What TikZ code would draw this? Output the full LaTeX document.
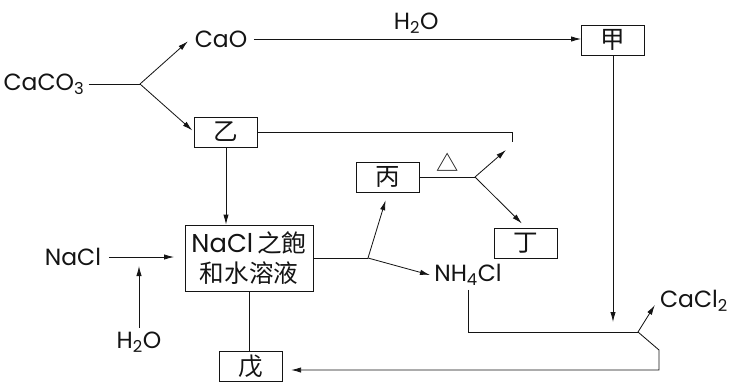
\documentclass[tikz,border=0pt]{standalone}
\usepackage{fontspec}
\setmainfont{Poppins}
\newfontfamily\cjk{Noto Sans CJK TC}
\usetikzlibrary{arrows.meta}
\usepackage{xcolor}
\definecolor{inkblack}{HTML}{141414}

\begin{document}
\begin{tikzpicture}[x=0.03cm, y=-0.03cm, line width=0.7pt, draw=inkblack,
  every node/.style={font=\fontsize{20}{23}\selectfont, text=inkblack},
  box/.style={draw, minimum width=1.89cm, minimum height=0.9cm, inner sep=0pt,
    font=\cjk\fontsize{21}{24}\selectfont},
  arr/.style={-{Latex[length=3mm, width=1.6mm]}}]

  % Canvas (pixel grid of the reference)
  \useasboundingbox (0, 0) rectangle (729, 381);

  % ==================== 1. LIMESTONE SPLIT ====================
  \node (caco3) at (44, 84) {CaCO\textsubscript{3}};
  \coordinate (fork1) at (140, 84);
  \node (cao) at (221, 39) {CaO};
  \node[box] (jia) at (613, 40) {甲};
  \node[box] (yi) at (226, 132) {乙};
  \draw (caco3) -- (fork1);
  \draw[arr, shorten >=3pt] (fork1) -- (cao.west);
  \draw[arr, shorten >=2pt] (fork1) -- (yi.west);
  \draw[arr, shorten <=2pt] (cao.east) -- node[above=1pt] {H\textsubscript{2}O} (cao.east -| jia.west);

  % gas line from yi
  \coordinate (co2end) at (512, 142);
  \draw (yi.east) -| (co2end);

  % ==================== 2. SATURATED BRINE ====================
  \node[box, minimum width=3.84cm, minimum height=1.98cm, align=center,
    font=\cjk\fontsize{21}{26}\selectfont] (sat) at (249, 258)
    {{\rmfamily\fontsize{22}{26}\selectfont NaCl}\,之飽\\和水溶液};
  \node (nacl) at (73, 257) {NaCl};
  \node (h2ob) at (139, 342) {H\textsubscript{2}O};
  \coordinate (h2oin) at (139, 266);
  \draw[arr] (yi.south) -- (yi.south |- sat.north);
  \draw[arr, shorten <=3pt, shorten >=9pt] (nacl) -- (nacl -| sat.west);
  \draw[arr] (h2ob) -- (h2oin);

  % ==================== 3. PRODUCTS ====================
  \coordinate (fork2) at (368, 258);
  \node[box] (bing) at (388, 177) {丙};
  \node (nh4cl) at (468, 275) {NH\textsubscript{4}Cl};
  \draw (sat.east) -- (fork2);
  \draw[arr, shorten >=7pt] (fork2) -- (bing.south);
  \draw[arr] (fork2) -- (nh4cl.west);

  % heating of bing
  \coordinate (fork3) at (475, 177);
  \coordinate (co2up) at (506, 150);
  \node[box] (ding) at (526, 243) {丁};
  \draw (bing.east) -- node[above=1pt, font=\cjk\fontsize{19}{22}\selectfont] {△} (fork3);
  \draw[arr] (fork3) -- (co2up);
  \draw[arr, shorten >=5pt] (fork3) -- (ding.north);

  % ==================== 4. RECYCLING ====================
  \coordinate (jiad) at (613, 322);
  \coordinate (fork4) at (638, 332);
  \coordinate (bend) at (659, 350);
  \coordinate (back) at (659, 370);
  \node[inner sep=2pt] (cacl2) at (694, 301) {CaCl\textsubscript{2}};
  \node[box] (wu) at (251, 366) {戊};
  \draw[arr] (jia) -- (jiad);
  \draw (nh4cl.south) |- (fork4);
  \draw[arr, shorten >=4pt] (fork4) -- (cacl2.west);
  \draw[arr, shorten >=7pt] (fork4) -- (bend) -- (back) -- (back -| wu.east);
  \draw (sat.south) -- (sat.south |- wu.north);

\end{tikzpicture}
\end{document}
